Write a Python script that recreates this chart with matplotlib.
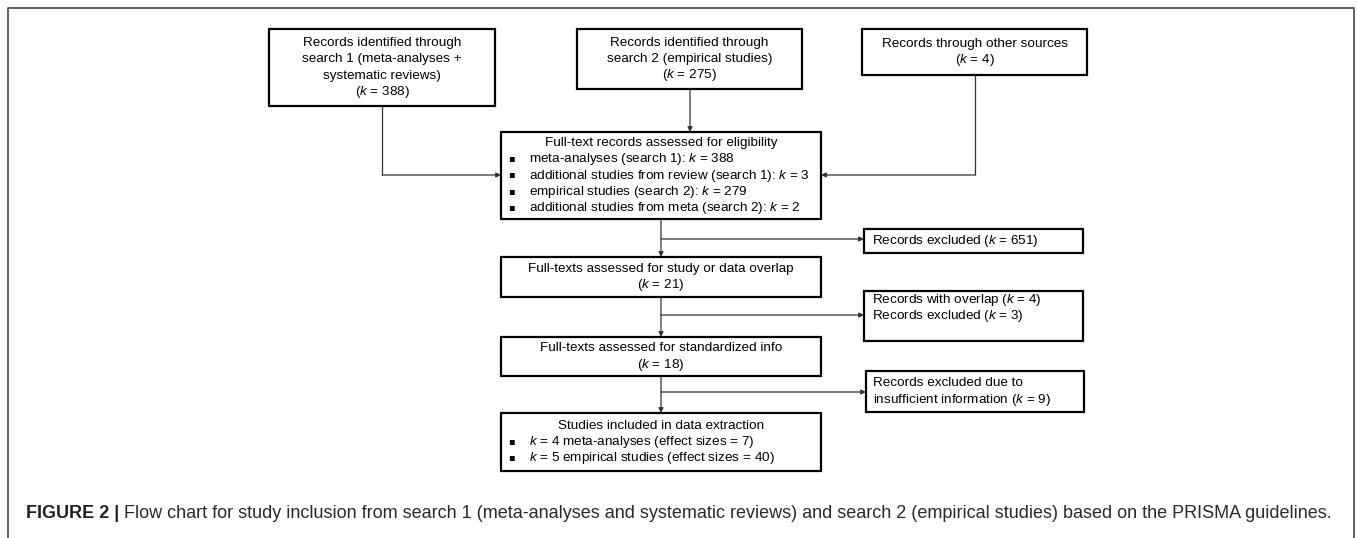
import matplotlib
matplotlib.use("Agg")
import matplotlib.pyplot as plt
from matplotlib.patches import Rectangle

plt.rcParams['font.family'] = ['Liberation Sans', 'DejaVu Sans']
plt.rcParams['mathtext.fontset'] = 'custom'
plt.rcParams['mathtext.rm'] = 'Liberation Sans'
plt.rcParams['mathtext.it'] = 'Liberation Sans:italic'

K = r'$\mathit{k}$'

# box texts
search1_lines = ['Records identified through', 'search 1 (meta-analyses +',
                 'systematic reviews)', '(' + K + ' = 388)']
search2_lines = ['Records identified through', 'search 2 (empirical studies)',
                 '(' + K + ' = 275)']
other_lines = ['Records through other sources', '(' + K + ' = 4)']

eligibility_title = 'Full-text records assessed for eligibility'
eligibility_items = ['meta-analyses (search 1): ' + K + ' = 388',
                     'additional studies from review (search 1): ' + K + ' = 3',
                     'empirical studies (search 2): ' + K + ' = 279',
                     'additional studies from meta (search 2): ' + K + ' = 2']

overlap_lines = ['Full-texts assessed for study or data overlap', '(' + K + ' = 21)']
info_lines = ['Full-texts assessed for standardized info', '(' + K + ' = 18)']

included_title = 'Studies included in data extraction'
included_items = [K + ' = 4 meta-analyses (effect sizes = 7)',
                  K + ' = 5 empirical studies (effect sizes = 40)']

excluded1_lines = ['Records excluded (' + K + ' = 651)']
excluded2_lines = ['Records with overlap (' + K + ' = 4)', 'Records excluded (' + K + ' = 3)', '']
excluded3_lines = ['Records excluded due to', 'insufficient information (' + K + ' = 9)']

caption_bold = 'FIGURE 2 |'
caption_text = (' Flow chart for study inclusion from search 1 (meta-analyses and systematic '
                'reviews) and search 2 (empirical studies) based on the PRISMA guidelines.')

W, H = 1357, 538
fig = plt.figure(figsize=(W / 100, H / 100), dpi=100)
ax = fig.add_axes([0, 0, 1, 1])
ax.set_xlim(0, W)
ax.set_ylim(H, 0)
ax.axis('off')

FS = 9.7
LS = 16.3  # line spacing in px
LINE = '#333333'


def box(x0, x1, y0, y1):
    ax.add_patch(Rectangle((x0, y0), x1 - x0, y1 - y0, fill=False,
                           edgecolor='black', lw=1.6))


def centered(x0, x1, y0, y1, lines):
    box(x0, x1, y0, y1)
    cx = (x0 + x1) / 2
    cy = (y0 + y1) / 2
    n = len(lines)
    for i, t in enumerate(lines):
        y = cy + (i - (n - 1) / 2) * LS
        ax.text(cx, y, t, ha='center', va='center', fontsize=FS)


def left(x0, x1, y0, y1, lines, tx):
    box(x0, x1, y0, y1)
    cy = (y0 + y1) / 2
    n = len(lines)
    for i, t in enumerate(lines):
        y = cy + (i - (n - 1) / 2) * LS
        ax.text(tx, y, t, ha='left', va='center', fontsize=FS)


def bulleted(x0, x1, y0, y1, title, items):
    box(x0, x1, y0, y1)
    cx = (x0 + x1) / 2
    cy = (y0 + y1) / 2
    lines = [title] + items
    n = len(lines)
    for i, t in enumerate(lines):
        y = cy + (i - (n - 1) / 2) * LS
        if i == 0:
            ax.text(cx, y, t, ha='center', va='center', fontsize=FS)
        else:
            ax.text(x0 + 10, y - 1.2, '\u25aa', ha='center', va='center', fontsize=7,
                    family=['DejaVu Sans'])
            ax.text(x0 + 28, y, t, ha='left', va='center', fontsize=FS)


def arrow(p0, p1):
    ax.annotate('', xy=p1, xytext=p0,
                arrowprops=dict(arrowstyle='-|>', color=LINE, lw=0.9,
                                mutation_scale=7, shrinkA=0, shrinkB=0))


def seg(xs, ys):
    ax.plot(xs, ys, color=LINE, lw=0.9, solid_capstyle='butt')


# outer frame
ax.plot([8, 8, 1354, 1354], [H, 8, 8, H], color='#555555', lw=1.3)

# top row
centered(269, 495, 29, 106, search1_lines)
centered(577, 802, 29, 89, search2_lines)
centered(862, 1087, 29, 75, other_lines)

# main column
bulleted(501, 821, 132, 219, eligibility_title, eligibility_items)
centered(501, 821, 257, 297, overlap_lines)
centered(501, 821, 337, 376, info_lines)
bulleted(501, 821, 413, 471, included_title, included_items)

# exclusion boxes
left(864, 1083, 229, 253, excluded1_lines, 872)
left(864, 1083, 291, 341, excluded2_lines, 872)
left(866, 1084, 371, 412, excluded3_lines, 873)

# connectors
seg([382, 382], [106, 175])
arrow((382, 175), (501, 175))
arrow((690, 89), (690, 132))
seg([975, 975], [75, 175])
arrow((975, 175), (821, 175))

arrow((661, 219), (661, 257))
arrow((661, 239), (864, 239))
arrow((661, 297), (661, 337))
arrow((661, 315), (864, 315))
arrow((661, 376), (661, 413))
arrow((661, 392), (866, 392))

# caption, sized so it spans the same width as the reference
fig.canvas.draw()
r = fig.canvas.get_renderer()
inv = ax.transData.inverted()


def caption(cfs):
    tb = ax.text(26, 513, caption_bold, ha='left', va='center', fontsize=cfs,
                 fontweight='bold', color='#222222')
    bb = tb.get_window_extent(r)
    xe = inv.transform((bb.x1, bb.y0))[0]
    tr = ax.text(xe, 513, caption_text, ha='left', va='center', fontsize=cfs,
                 color='#2a2a2a')
    end = inv.transform((tr.get_window_extent(r).x1, 0))[0]
    return tb, tr, end


tb, tr, end = caption(11.0)
cfs = 11.0 * (1327 - 26) / (end - 26)
tb.remove()
tr.remove()
caption(cfs)

fig.savefig('out.png', dpi=100, facecolor='white')
